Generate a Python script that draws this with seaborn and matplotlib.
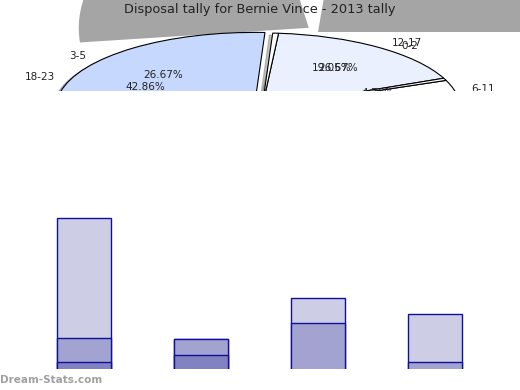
import matplotlib
matplotlib.use("Agg")
import matplotlib.pyplot as plt
import seaborn as sns

W, H = 520, 390

TITLE = "Disposal tally for Bernie Vince - 2013 tally"

# stacked bars, bottom segment first
BAR_CATS = ["0-2", "3-5", "6-11", "12-17"]
DARK = [6, 12, 0, 0]
MEDIUM = [20, 13, 39, 6]
LIGHT = [100, 0, 20, 40]

# pie slices in degrees, counter-clockwise from PIE_START
PIE_START = 23.4
PIE_SIZES = [61.8, 1.7, 163.1, 117.0, 14.6, 1.8]
PIE_COLORS = ["#eaf0fd", "white", "#c6d8fd", "white", "white", "white"]
PIE_EXPLODE = [0, 0, 0.04, 0, 0, 0]

# the grey "shadow" slices showing above the pie
SHADOW_SIZES = [84, 17, 85, 174]
SHADOW_COLORS = ["#a5a5a5", "none", "#a5a5a5", "none"]
SHADOW_EXPLODE = [0, 0, 0.05, 0]

# labels as they appear (pixel positions)
PIE_TEXTS = [
    ("3-5", 78, 56), ("18-23", 40, 77), ("26.67%", 163, 75),
    ("42.86%", 145, 87), ("12-17", 407, 43), ("0-2", 410, 46),
    ("19.05%", 332, 68), ("26.67%", 338, 68), ("4.76%", 378, 93),
    ("6-11", 483, 89),
]

fig = plt.figure(figsize=(W / 100, H / 100), dpi=100)

pie_h = 91
rect = [0, 1 - pie_h / H, 1, pie_h / H]


def clip_all(ax):
    for p in ax.patches:
        p.set_clip_path(ax.patch)
        p.set_clip_on(True)


# shadow pie, centre at px (318, 32), a=230, b=140
ax_sh = fig.add_axes(rect)
ax_sh.pie(SHADOW_SIZES, colors=SHADOW_COLORS, explode=SHADOW_EXPLODE,
          startangle=0, wedgeprops=dict(linewidth=0))
ax_sh.set_aspect("auto")
ax_sh.set_xlim((0 - 318) / 230, (W - 318) / 230)
ax_sh.set_ylim((32 - pie_h) / 140, 32 / 140)
ax_sh.axis("off")
clip_all(ax_sh)

# main pie, centre at px (262, 108), a=198, b=75
cx, cy, ra, rb = 262, 108, 198, 75
ax_pie = fig.add_axes(rect)
ax_pie.pie(PIE_SIZES, colors=PIE_COLORS, explode=PIE_EXPLODE,
           startangle=PIE_START,
           shadow=dict(ox=-0.012, oy=-0.02, shade=0.5),
           wedgeprops=dict(edgecolor="black", linewidth=0.8))
ax_pie.set_aspect("auto")
ax_pie.set_xlim((0 - cx) / ra, (W - cx) / ra)
ax_pie.set_ylim((cy - pie_h) / rb, cy / rb)
ax_pie.axis("off")
clip_all(ax_pie)

for s, px, py in PIE_TEXTS:
    ax_pie.text(px / W, 1 - py / pie_h, s, transform=ax_pie.transAxes,
                ha="center", va="center", fontsize=7.5, color="#222222",
                clip_on=True)

fig.text(260 / W, 1 - 10 / H, TITLE, ha="center", va="center",
         fontsize=9.3, color="#222222")

# stacked bars
ax = fig.add_axes([25.5 / W, 1 - 369 / H, 468 / W, 169 / H])
edge = "#10109a"
tot_mid = [d + m for d, m in zip(DARK, MEDIUM)]
tot_all = [t + l for t, l in zip(tot_mid, LIGHT)]
for vals, col in [(tot_all, "#cdcde5"), (tot_mid, "#a3a3d1"), (DARK, "#8282c2")]:
    sns.barplot(x=BAR_CATS, y=vals, color=col, saturation=1, width=0.453,
                edgecolor=edge, linewidth=1.0, ax=ax)
ax.set_xlim(-0.5, 3.5)
ax.set_ylim(0.5, 0.5 + 169 / 1.207)
ax.axis("off")

fig.text(0, 1 - 380 / H, "Dream-Stats.com", ha="left", va="center",
         fontsize=7.5, fontweight="bold", color="#a0a0a0")

fig.savefig("out.png", dpi=100)
